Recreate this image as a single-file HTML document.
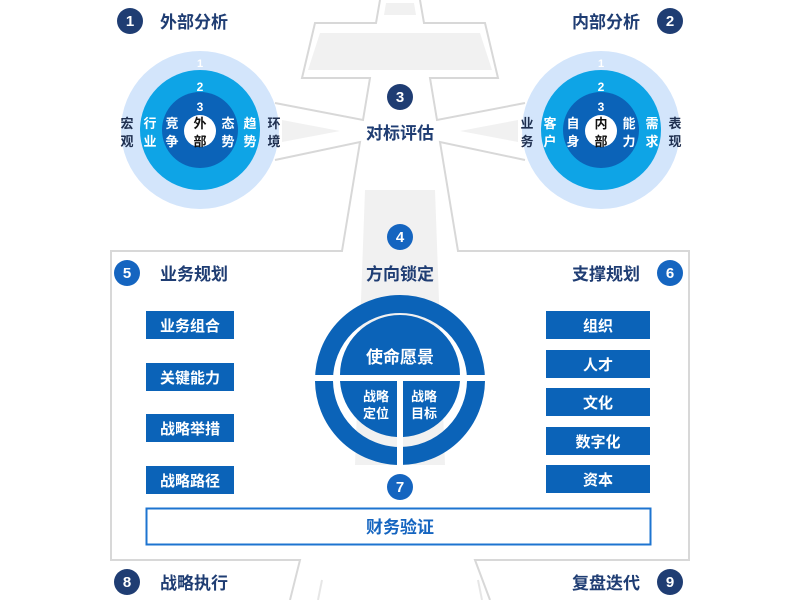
<!DOCTYPE html>
<html><head><meta charset="utf-8"><style>
html,body{margin:0;padding:0;background:#fff;}
svg{display:block;font-family:"Liberation Sans","Noto Sans CJK SC",sans-serif;}
</style></head><body>
<svg width="800" height="600" viewBox="0 0 800 600" xmlns="http://www.w3.org/2000/svg">
<g fill="none" stroke="#d8d8d8" stroke-width="2">
<polyline points="380,0 376,23 315,23 302,78 370,78 363,120 275,103"/>
<polyline points="420,0 424,23 485,23 498,78 430,78 437,120 525,103"/>
<polyline points="275,160 360,142 342,251 111,251 111,560 300,560 290,600"/>
<polyline points="525,160 440,142 458,251 689,251 689,560 475,560 490,600"/>
</g>
<polygon points="320,33 480,33 492,70 308,70" fill="#f1f1f1"/>
<polygon points="386,3 414,3 416,15 384,15" fill="#f1f1f1"/>
<polygon points="365,190 435,190 445,465 355,465" fill="#f1f1f1"/>
<polygon points="282,120 340,131 282,142" fill="#f1f1f1"/>
<polygon points="518,120 460,131 518,142" fill="#f1f1f1"/>
<line x1="322" y1="580" x2="318" y2="600" stroke="#e6e6e6" stroke-width="2"/>
<line x1="478" y1="580" x2="482" y2="600" stroke="#e6e6e6" stroke-width="2"/>

<circle cx="200" cy="130" r="79" fill="#d3e5fb"/>
<circle cx="200" cy="130" r="60" fill="#0ea4e6"/>
<circle cx="200" cy="130" r="38" fill="#0b63b8"/>
<circle cx="200" cy="131" r="16" fill="#fff"/>
<g font-weight="bold" font-size="13" text-anchor="middle">
<text x="200" y="67" fill="#fff" font-size="11">1</text>
<text x="200" y="91" fill="#fff" font-size="12">2</text>
<text x="200" y="111" fill="#fff" font-size="12">3</text>
<text x="127" y="128" fill="#1f2f4f">宏</text><text x="127" y="146" fill="#1f2f4f">观</text>
<text x="150" y="128" fill="#fff">行</text><text x="150" y="146" fill="#fff">业</text>
<text x="172" y="128" fill="#fff">竞</text><text x="172" y="146" fill="#fff">争</text>
<text x="200" y="128" fill="#111">外</text><text x="200" y="146" fill="#111">部</text>
<text x="228" y="128" fill="#fff">态</text><text x="228" y="146" fill="#fff">势</text>
<text x="250" y="128" fill="#fff">趋</text><text x="250" y="146" fill="#fff">势</text>
<text x="274" y="128" fill="#1f2f4f">环</text><text x="274" y="146" fill="#1f2f4f">境</text>
</g>
<circle cx="601" cy="130" r="79" fill="#d3e5fb"/>
<circle cx="601" cy="130" r="60" fill="#0ea4e6"/>
<circle cx="601" cy="130" r="38" fill="#0b63b8"/>
<circle cx="601" cy="131" r="16" fill="#fff"/>
<g font-weight="bold" font-size="13" text-anchor="middle">
<text x="601" y="67" fill="#fff" font-size="11">1</text>
<text x="601" y="91" fill="#fff" font-size="12">2</text>
<text x="601" y="111" fill="#fff" font-size="12">3</text>
<text x="527" y="128" fill="#1f2f4f">业</text><text x="527" y="146" fill="#1f2f4f">务</text>
<text x="550" y="128" fill="#fff">客</text><text x="550" y="146" fill="#fff">户</text>
<text x="573" y="128" fill="#fff">自</text><text x="573" y="146" fill="#fff">身</text>
<text x="601" y="128" fill="#111">内</text><text x="601" y="146" fill="#111">部</text>
<text x="629" y="128" fill="#fff">能</text><text x="629" y="146" fill="#fff">力</text>
<text x="652" y="128" fill="#fff">需</text><text x="652" y="146" fill="#fff">求</text>
<text x="675" y="128" fill="#1f2f4f">表</text><text x="675" y="146" fill="#1f2f4f">现</text>
</g>

<g font-weight="bold" font-size="15" text-anchor="middle" fill="#fff">
<circle cx="130" cy="21" r="13" fill="#1f3d73"/><text x="130" y="26">1</text>
<circle cx="670" cy="21" r="13" fill="#1f3d73"/><text x="670" y="26">2</text>
<circle cx="400" cy="97" r="13" fill="#1f3d73"/><text x="400" y="102">3</text>
<circle cx="400" cy="237" r="13" fill="#1565c0"/><text x="400" y="242">4</text>
<circle cx="127" cy="273" r="13" fill="#1565c0"/><text x="127" y="278">5</text>
<circle cx="670" cy="273" r="13" fill="#1565c0"/><text x="670" y="278">6</text>
<circle cx="400" cy="487" r="13" fill="#1565c0"/><text x="400" y="492">7</text>
<circle cx="127" cy="582" r="13" fill="#1f3d73"/><text x="127" y="587">8</text>
<circle cx="670" cy="582" r="13" fill="#1f3d73"/><text x="670" y="587">9</text>
</g>
<g font-weight="bold" font-size="17" fill="#1f3d73">
<text x="160" y="28">外部分析</text>
<text x="640" y="28" text-anchor="end">内部分析</text>
<text x="400" y="139" text-anchor="middle">对标评估</text>
<text x="400" y="280" text-anchor="middle">方向锁定</text>
<text x="160" y="280">业务规划</text>
<text x="640" y="280" text-anchor="end">支撑规划</text>
<text x="160" y="589">战略执行</text>
<text x="640" y="589" text-anchor="end">复盘迭代</text>
</g>

<circle cx="400" cy="380" r="76" fill="none" stroke="#0b63b8" stroke-width="18"/>
<path d="M340,375 A60,60 0 0 1 460,375 Z" fill="#0b63b8"/>
<path d="M340,381 L397,381 L397,437 A60,60 0 0 1 340,381 Z" fill="#0b63b8"/>
<path d="M403,381 L460,381 A60,60 0 0 1 403,437 Z" fill="#0b63b8"/>
<rect x="310" y="375" width="180" height="6" fill="#fff"/>
<rect x="397" y="381" width="6" height="90" fill="#fff"/>
<g font-weight="bold" fill="#fff" text-anchor="middle">
<text x="400" y="363" font-size="17">使命愿景</text>
<text x="376" y="401" font-size="13">战略</text><text x="376" y="418" font-size="13">定位</text>
<text x="424" y="401" font-size="13">战略</text><text x="424" y="418" font-size="13">目标</text>
</g>

<g fill="#0b63b8">
<rect x="146" y="311" width="88" height="28"/>
<rect x="146" y="363" width="88" height="28"/>
<rect x="146" y="414" width="88" height="28"/>
<rect x="146" y="466" width="88" height="28"/>
<rect x="546" y="311" width="104" height="28"/>
<rect x="546" y="350" width="104" height="28"/>
<rect x="546" y="388" width="104" height="28"/>
<rect x="546" y="427" width="104" height="28"/>
<rect x="546" y="465" width="104" height="28"/>
</g>
<g font-weight="bold" font-size="15" fill="#fff" text-anchor="middle">
<text x="190" y="331">业务组合</text>
<text x="190" y="383">关键能力</text>
<text x="190" y="434">战略举措</text>
<text x="190" y="486">战略路径</text>
<text x="598" y="331">组织</text>
<text x="598" y="370">人才</text>
<text x="598" y="408">文化</text>
<text x="598" y="447">数字化</text>
<text x="598" y="485">资本</text>
</g>
<rect x="146.5" y="508.5" width="504" height="36" fill="#fff" stroke="#1e74d0" stroke-width="2"/>
<text x="400" y="533" font-weight="bold" font-size="17" fill="#1565c0" text-anchor="middle">财务验证</text>
</svg>
</body></html>
